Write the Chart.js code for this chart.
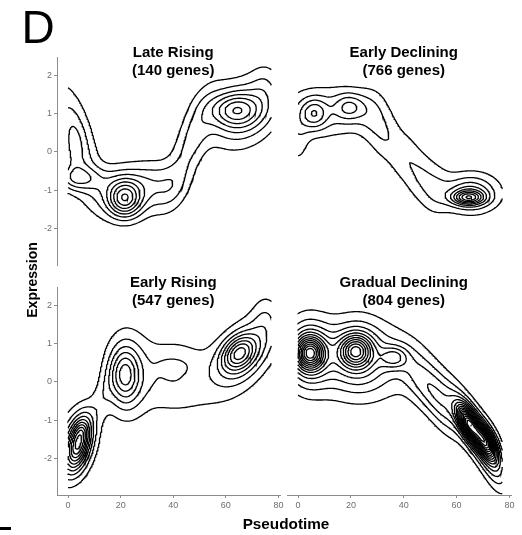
<!DOCTYPE html>
<html><head><meta charset="utf-8">
<script src="https://cdn.jsdelivr.net/npm/chart.js@4"></script>
<style>
body{margin:0;width:522px;height:535px;position:relative;background:#fff;overflow:hidden;font-family:"Liberation Sans",Arial,sans-serif}
canvas{position:absolute}
.t{position:absolute;white-space:nowrap;color:#000;line-height:1}
</style></head><body>
<canvas id="pTL" width="270" height="238" style="left:20px;top:37px"></canvas>
<canvas id="pTR" width="244" height="238" style="left:277px;top:37px"></canvas>
<canvas id="pBL" width="270" height="258" style="left:20px;top:267px"></canvas>
<canvas id="pBR" width="244" height="258" style="left:277px;top:267px"></canvas>
<div class="t" style="left:21.5px;top:4px;font-size:46px">D</div>
<div class="t" style="left:32px;top:280px;font-size:14px;font-weight:bold;transform:translate(-50%,-50%) rotate(-90deg)">Expression</div>
<div class="t" style="left:286px;top:516px;font-size:15.3px;font-weight:bold;transform:translateX(-50%)">Pseudotime</div>
<div style="position:absolute;left:0;top:527px;width:11px;height:3px;background:#000"></div>
<script>
// ---- axis ticks / titles ----
const xTicks = [0, 20, 40, 60, 80];
const yTicks = [-2, -1, 0, 1, 2];
const titleLate = ["Late Rising", "(140 genes)"];
const titleEarlyDecl = ["Early Declining", "(766 genes)"];
const titleEarlyRise = ["Early Rising", "(547 genes)"];
const titleGradual = ["Gradual Declining", "(804 genes)"];
const pseudotimeSpan = [0, 77.3];
const expressionSpan = [-3.0, 2.5];

// ---- density components (centre, spread, tilt, height in contour steps) ----
// Late Rising
const lateX   = [21.5, 21.5, 3,    2,   3,    3.5, 33,   39,  47,  63.5, 66,  75];
const lateY   = [-1.25,-1.05,0.3, -0.1, -0.7, -0.6,-0.75,-1.0,0.3, 1.1,  1.0, 1.7];
const lateSX  = [4.2,  7.5,  6,    2.5, 7,    2.5, 6,    5,   6,   6.5,  9,   4];
const lateSY  = [0.32, 0.45, 1.0,  0.55,0.22, 0.2, 0.4,  0.45,0.9, 0.3,  0.6, 0.45];
const lateRho = [0,    0,    -0.6, 0,   0,    0,   0,    0.3, 0.7, 0,    0.2, 0];
const lateAmp = [4.8,  3.5,  2.8,  1.0, 2.5,  0.3, 1.6,  1.2, 2.2, 3.8,  3.5, 1.2];
// Early Declining
const edX   = [6,   19.5, 12,  0,   28,  33,  40,   46,  52,  64.5, 65,  66];
const edY   = [1.0, 1.17, 1.05,0.4, 1.0, 0.4, -0.1,-0.6,-1.0,-1.2, -1.1,-1.05];
const edSX  = [3.5, 4,    11,  3,   4,   4,   4,    4,   4,   4,    6,   9];
const edSY  = [0.28,0.25, 0.5, 0.6, 0.45,0.45,0.45, 0.45,0.45,0.12, 0.28,0.45];
const edRho = [0,   0,    0,   0,   0,   0,   0,    0,   0,   0,    0,   0];
const edAmp = [3.3, 2.8,  2.0, 1.3, 1.5, 1.5, 1.5,  1.5, 1.5, 5,    3.0, 1.5];
// Early Rising
const erX   = [4,    3,    5,    13,  21.5, 22,  40,  39.5, 65,  67,  75];
const erY   = [-1.6, -1.65,-1.28,-0.4,0.18, 0.2, 0.15,0.42, 0.75,0.7, 1.6];
const erSX  = [3.0,  5,    1.5,  3.5, 3.5,  5.5, 11,  3.5,  4.5, 8.5, 3.5];
const erSY  = [0.45, 0.6,  0.15, 0.5, 0.45, 0.75,0.7, 0.12, 0.32,0.7, 0.5];
const erRho = [0.45, 0.3,  0,    0.6, 0,    0,   0,   0,    0.3, 0.5, 0];
const erAmp = [6,    4.5,  0.8,  1.0, 3.2,  3.0, 2.0, 1.0,  5.5, 3.2, 1.2];
// Gradual Declining
const gdX   = [4.5, 4,   21.8, 22,  36.2, 25,  47,  55,  64.5, 70.8, 67,  74];
const gdY   = [0.75,0.75,0.81, 0.75,0.64, 0.5, 0.0, -0.6,-1.08,-1.56,-1.3,-2.0];
const gdSX  = [3.5, 6,   4,    7,   3.5,  14,  6,   5,   2.8,  2.8,  6,   3.5];
const gdSY  = [0.28,0.6, 0.28, 0.6, 0.2,  0.7, 0.6, 0.6, 0.3,  0.3,  0.7, 0.6];
const gdRho = [0,   0,   0,    0,   0,    0,   -0.6,-0.6,-0.6,-0.6, -0.8,-0.5];
const gdAmp = [8,   5,   6.5,  3,   3.2,  2.5, 2.5, 2.5, 10,   9,    6,   2];

const contourLevels = [];
for (let l = 1; l <= 40; l++) contourLevels.push(l);

function density(c, x, y) {
  let s = 0;
  for (let k = 0; k < c.x.length; k++) {
    const dx = (x - c.x[k]) / c.sx[k], dy = (y - c.y[k]) / c.sy[k], r = c.rho[k];
    const q = (dx * dx - 2 * r * dx * dy + dy * dy) / (1 - r * r);
    s += c.amp[k] * Math.exp(-0.5 * q);
  }
  return s;
}

function contours(c) {
  const x0 = pseudotimeSpan[0], x1 = pseudotimeSpan[1], y0 = expressionSpan[0], y1 = expressionSpan[1];
  const nx = 170, ny = 170;
  const X = i => x0 + (x1 - x0) * i / nx, Y = j => y0 + (y1 - y0) * j / ny;
  const g = [];
  for (let j = 0; j <= ny; j++) { const row = []; for (let i = 0; i <= nx; i++) row.push(density(c, X(i), Y(j))); g.push(row); }
  const lines = [];
  for (const L of contourLevels) {
    const pts = new Map(); const segs = [];
    const hE = (i, j) => { const k = 'h' + i + '_' + j; if (!pts.has(k)) { const t = (L - g[j][i]) / (g[j][i + 1] - g[j][i]); pts.set(k, { x: X(i) + t * (X(i + 1) - X(i)), y: Y(j) }); } return k; };
    const vE = (i, j) => { const k = 'v' + i + '_' + j; if (!pts.has(k)) { const t = (L - g[j][i]) / (g[j + 1][i] - g[j][i]); pts.set(k, { x: X(i), y: Y(j) + t * (Y(j + 1) - Y(j)) }); } return k; };
    for (let j = 0; j < ny; j++) for (let i = 0; i < nx; i++) {
      const v0 = g[j][i], v1 = g[j][i + 1], v2 = g[j + 1][i + 1], v3 = g[j + 1][i];
      const cs = (v0 > L ? 1 : 0) | (v1 > L ? 2 : 0) | (v2 > L ? 4 : 0) | (v3 > L ? 8 : 0);
      if (cs === 0 || cs === 15) continue;
      const e0 = () => hE(i, j), e1 = () => vE(i + 1, j), e2 = () => hE(i, j + 1), e3 = () => vE(i, j);
      const m = (v0 + v1 + v2 + v3) / 4;
      switch (cs) {
        case 1: case 14: segs.push([e3(), e0()]); break;
        case 2: case 13: segs.push([e0(), e1()]); break;
        case 3: case 12: segs.push([e3(), e1()]); break;
        case 4: case 11: segs.push([e1(), e2()]); break;
        case 6: case 9: segs.push([e0(), e2()]); break;
        case 7: case 8: segs.push([e3(), e2()]); break;
        case 5: if (m > L) { segs.push([e0(), e1()]); segs.push([e2(), e3()]); } else { segs.push([e3(), e0()]); segs.push([e1(), e2()]); } break;
        case 10: if (m > L) { segs.push([e3(), e0()]); segs.push([e1(), e2()]); } else { segs.push([e0(), e1()]); segs.push([e2(), e3()]); } break;
      }
    }
    if (!segs.length) continue;
    const byKey = new Map();
    segs.forEach((s, idx) => { for (const k of s) { if (!byKey.has(k)) byKey.set(k, []); byKey.get(k).push(idx); } });
    const used = new Array(segs.length).fill(false);
    const other = (idx, k) => segs[idx][0] === k ? segs[idx][1] : segs[idx][0];
    for (let s = 0; s < segs.length; s++) {
      if (used[s]) continue; used[s] = true;
      const chain = [segs[s][0], segs[s][1]];
      let cur = chain[1];
      while (true) { const cand = (byKey.get(cur) || []).find(q => !used[q]); if (cand === undefined) break; used[cand] = true; cur = other(cand, cur); chain.push(cur); }
      cur = chain[0];
      while (true) { const cand = (byKey.get(cur) || []).find(q => !used[q]); if (cand === undefined) break; used[cand] = true; cur = other(cand, cur); chain.unshift(cur); }
      lines.push(chain.map(k => pts.get(k)));
    }
  }
  return lines;
}

const FONT = '"Liberation Sans", Arial, sans-serif';
const titlePlugin = {
  id: 'panelTitle',
  afterDraw(chart, args, opts) {
    const ctx = chart.ctx, cx = chart.scales.x.getPixelForValue(40), top = chart.chartArea.top;
    ctx.save();
    ctx.font = 'bold 15px ' + FONT; ctx.fillStyle = '#000'; ctx.textAlign = 'center'; ctx.textBaseline = 'alphabetic';
    ctx.fillText(opts.lines[0], cx, top + 0.2);
    ctx.fillText(opts.lines[1], cx, top + 18.1);
    ctx.restore();
  }
};

function makePanel(id, comp, title, showX, showY) {
  const lines = contours(comp);
  const axisCol = '#8c8c8c';
  const xs = { type: 'linear', min: -4.2, max: 80.6, display: showX,
    afterBuildTicks: s => { s.ticks = xTicks.map(v => ({ value: v })); },
    grid: { display: true, drawOnChartArea: false, drawTicks: true, tickLength: 3, color: axisCol, tickColor: axisCol },
    border: { display: true, color: axisCol, width: 1 },
    ticks: { color: '#6e6e6e', font: { size: 9, family: FONT }, padding: 2, maxRotation: 0, autoSkip: false } };
  if (showX) xs.afterFit = s => { s.height = 20; };
  const ys = { type: 'linear', min: -2.96, max: 2.48, display: showY,
    afterBuildTicks: s => { s.ticks = yTicks.map(v => ({ value: v })); },
    grid: { display: true, drawOnChartArea: false, drawTicks: true, tickLength: 3, color: axisCol, tickColor: axisCol },
    border: { display: true, color: axisCol, width: 1 },
    ticks: { color: '#6e6e6e', font: { size: 9, family: FONT }, padding: 2, autoSkip: false } };
  if (showY) ys.afterFit = s => { s.width = 27; };
  new Chart(document.getElementById(id), {
    type: 'scatter',
    data: { datasets: lines.map(l => ({ data: l, showLine: true, pointRadius: 0, pointHoverRadius: 0, borderColor: '#000', borderWidth: 1.3, fill: false, tension: 0 })) },
    options: {
      responsive: false, animation: false, events: [],
      layout: { padding: { left: 10, right: 10, top: 20, bottom: 10 } },
      plugins: { legend: { display: false }, tooltip: { enabled: false }, panelTitle: { lines: title } },
      scales: { x: xs, y: ys }
    },
    plugins: [titlePlugin]
  });
}

makePanel('pTL', { x: lateX, y: lateY, sx: lateSX, sy: lateSY, rho: lateRho, amp: lateAmp }, titleLate, false, true);
makePanel('pTR', { x: edX, y: edY, sx: edSX, sy: edSY, rho: edRho, amp: edAmp }, titleEarlyDecl, false, false);
makePanel('pBL', { x: erX, y: erY, sx: erSX, sy: erSY, rho: erRho, amp: erAmp }, titleEarlyRise, true, true);
makePanel('pBR', { x: gdX, y: gdY, sx: gdSX, sy: gdSY, rho: gdRho, amp: gdAmp }, titleGradual, true, false);
</script>
</body></html>
